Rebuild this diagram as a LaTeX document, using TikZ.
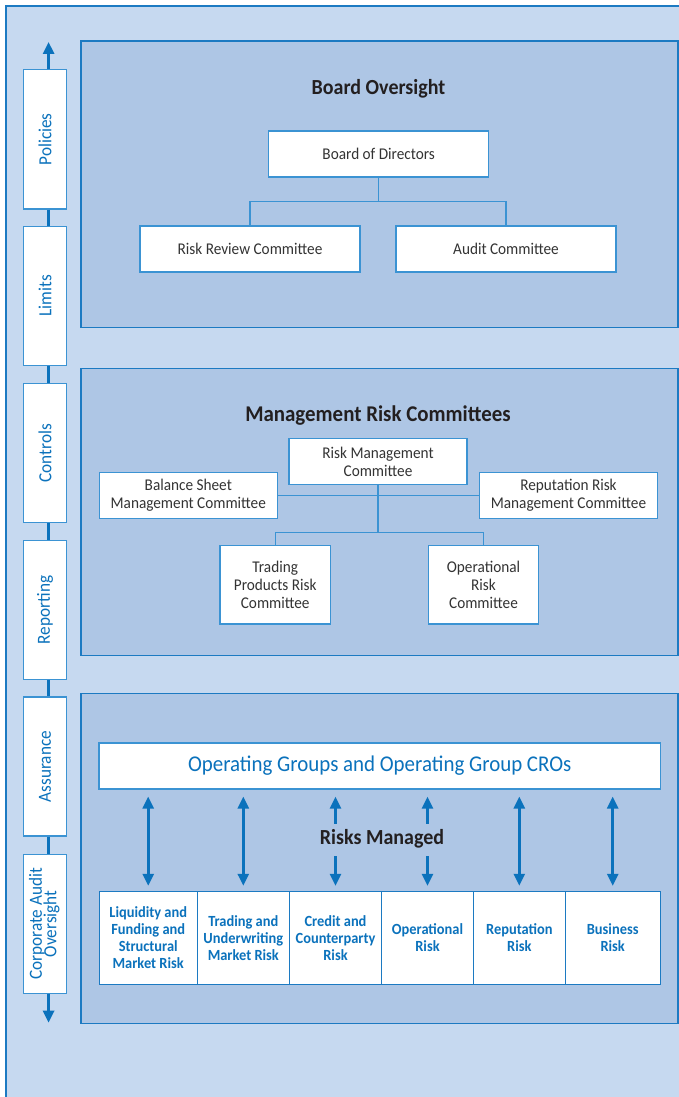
\documentclass[tikz,border=0pt]{standalone}
\usepackage{fontspec}
\setmainfont{Carlito}[FakeStretch=0.93]
\usetikzlibrary{arrows.meta,calc}
\definecolor{pagebg}{HTML}{C6D9F0}
\definecolor{panelbg}{HTML}{AEC6E5}
\definecolor{edgeblue}{HTML}{1C7AC2}
\definecolor{boxedge}{HTML}{3B93D3}
\definecolor{arrowblue}{HTML}{0B72BC}
\definecolor{bluetext}{HTML}{0B72BC}
\definecolor{darktext}{HTML}{231F20}
\definecolor{boxtext}{HTML}{333333}
\tikzset{
  panel/.style={draw=edgeblue, line width=1.1pt, fill=panelbg, inner sep=0pt},
  titletext/.style={text=darktext, font=\bfseries\fontsize{21.5}{25}\selectfont},
  combox/.style={draw=boxedge, line width=1.2pt, fill=white, inner sep=0pt, align=center,
    text=boxtext, font=\fontsize{16.4}{18.3}\selectfont},
  sidebox/.style={draw=boxedge, line width=1.2pt, fill=white, inner sep=0pt, align=center,
    minimum width=43.4pt, minimum height=139pt, text=bluetext, font=\fontsize{18.5}{15}\selectfont},
  ogbox/.style={draw=boxedge, line width=1.2pt, fill=white, inner sep=0pt,
    text=bluetext, font=\fontsize{22.5}{24}\selectfont},
  riskbox/.style={draw=edgeblue, line width=1pt, fill=white, inner sep=0pt, align=center,
    minimum height=93.4pt, text=bluetext, font=\bfseries\fontsize{15.5}{17}\selectfont},
  orgline/.style={draw=boxedge, line width=1.2pt},
  sideline/.style={draw=arrowblue, line width=2.7pt},
  bitip/.style={arrowblue, line width=2.6pt, {Triangle[width=11pt,length=12pt]}-{Triangle[width=11pt,length=12pt]}},
  uptip/.style={arrowblue, line width=2.6pt, {Triangle[width=11pt,length=12pt]}-},
  downtip/.style={arrowblue, line width=2.6pt, -{Triangle[width=11pt,length=12pt]}},
}
\begin{document}
\begin{tikzpicture}[x=1pt,y=-1pt]
\useasboundingbox (0,0) rectangle (679,1097);
\clip (0,0) rectangle (679,1097);
\fill[white] (0,0) rectangle (679,1097);
\draw[draw=edgeblue, line width=1.2pt, fill=pagebg] (6,6) rectangle (700,1120);

% panels
\node[panel, minimum width=597pt, minimum height=286.5pt] (p1) at (379.5,184.3) {};
\node[panel, minimum width=597pt, minimum height=286.5pt] (p2) at (379.5,511.8) {};
\node[panel, minimum width=597pt, minimum height=329.8pt] (p3) at (379.5,858.4) {};

% panel 1
\node[titletext] (t1) at (378.5,89) {Board Oversight};
\node[combox, minimum width=220pt, minimum height=46pt] (bod) at (378.7,154) {Board of Directors};
\node[combox, minimum width=220pt, minimum height=46pt] (rrc) at (250,249) {Risk Review Committee};
\node[combox, minimum width=220pt, minimum height=46pt] (ac) at (506,249) {Audit Committee};
\draw[orgline] (bod.south) -- ++(0,24) -| (rrc.north);
\draw[orgline] (bod.south) -- ++(0,24) -| (ac.north);

% panel 2
\node[titletext, font=\bfseries\fontsize{22.5}{25}\selectfont] (t2) at (378,416) {Management Risk Committees};
\node[combox, minimum width=178pt, minimum height=46pt] (rmc) at (378,461.7) {Risk Management\\Committee};
\node[combox, minimum width=178pt, minimum height=46pt] (bsmc) at (188.3,495.3) {Balance Sheet\\Management Committee};
\node[combox, minimum width=178.4pt, minimum height=46pt] (rrmc) at (568.5,495.3) {Reputation Risk\\Management Committee};
\node[combox, minimum width=110.3pt, minimum height=78.7pt] (tprc) at (275.2,584.7) {Trading\\Products Risk\\Committee};
\node[combox, minimum width=110.4pt, minimum height=78.7pt] (orc) at (483.5,584.7) {Operational\\Risk\\Committee};
\draw[orgline] (bsmc.east) -- (rrmc.west);
\draw[orgline] (rmc.south) -- ++(0,47) -| (tprc.north);
\draw[orgline] (rmc.south) -- ++(0,47) -| (orc.north);

% panel 3
\node[ogbox, minimum width=561.3pt, minimum height=46pt] (og) at (379.7,766) {Operating Groups and Operating Group CROs};
\node[riskbox, minimum width=98.3pt] (b1) at (148.2,938) {Liquidity and\\Funding and\\Structural\\Market Risk};
\node[riskbox, minimum width=92pt] (b2) at (243.3,938) {Trading and\\Underwriting\\Market Risk};
\node[riskbox, minimum width=92.4pt] (b3) at (335.5,938) {Credit and\\Counterparty\\Risk};
\node[riskbox, minimum width=91.6pt] (b4) at (427.5,938) {Operational\\Risk};
\node[riskbox, minimum width=92pt] (b5) at (519.3,938) {Reputation\\Risk};
\node[riskbox, minimum width=94.7pt] (b6) at (612.7,938) {Business\\Risk};
\node[titletext] (rm) at (382,839) {Risks Managed};

\foreach \b in {b1,b2,b5,b6}{
  \draw[bitip] ($(\b.north |- og.south)+(0,7)$) -- ($(\b.north)+(0,-5)$);
}
\coordinate (c3a) at (335.5,824);
\coordinate (c3b) at (335.5,856);
\coordinate (c4a) at (427.5,824);
\coordinate (c4b) at (427.5,856);
\draw[uptip] ($(b3.north |- og.south)+(0,7)$) -- (c3a);
\draw[downtip] (c3b) -- ($(b3.north)+(0,-5)$);
\draw[uptip] ($(b4.north |- og.south)+(0,7)$) -- (c4a);
\draw[downtip] (c4b) -- ($(b4.north)+(0,-5)$);

% sidebar
\node[sidebox] (pol) at (45,139.4) {\rotatebox{90}{Policies}};
\node[sidebox] (lim) at (45,295.9) {\rotatebox{90}{Limits}};
\node[sidebox] (con) at (45,453.3) {\rotatebox{90}{Controls}};
\node[sidebox] (rep) at (45,610) {\rotatebox{90}{Reporting}};
\node[sidebox] (ass) at (45,766.5) {\rotatebox{90}{Assurance}};
\node[sidebox] (cao) at (45,923.8) {\rotatebox{90}{\begin{tabular}{@{}c@{}}Corporate Audit\\[-3pt]Oversight\end{tabular}}};
\coordinate (st) at (48.6,42);
\coordinate (sb) at (48.6,1022.7);
\draw[sideline, -{Triangle[width=11pt,length=12pt]}] (st |- pol.north) -- (st);
\draw[sideline] (st |- pol.south) -- (st |- lim.north);
\draw[sideline] (st |- lim.south) -- (st |- con.north);
\draw[sideline] (st |- con.south) -- (st |- rep.north);
\draw[sideline] (st |- rep.south) -- (st |- ass.north);
\draw[sideline] (st |- ass.south) -- (st |- cao.north);
\draw[sideline, -{Triangle[width=11pt,length=12pt]}] (st |- cao.south) -- (sb);
\end{tikzpicture}
\end{document}
